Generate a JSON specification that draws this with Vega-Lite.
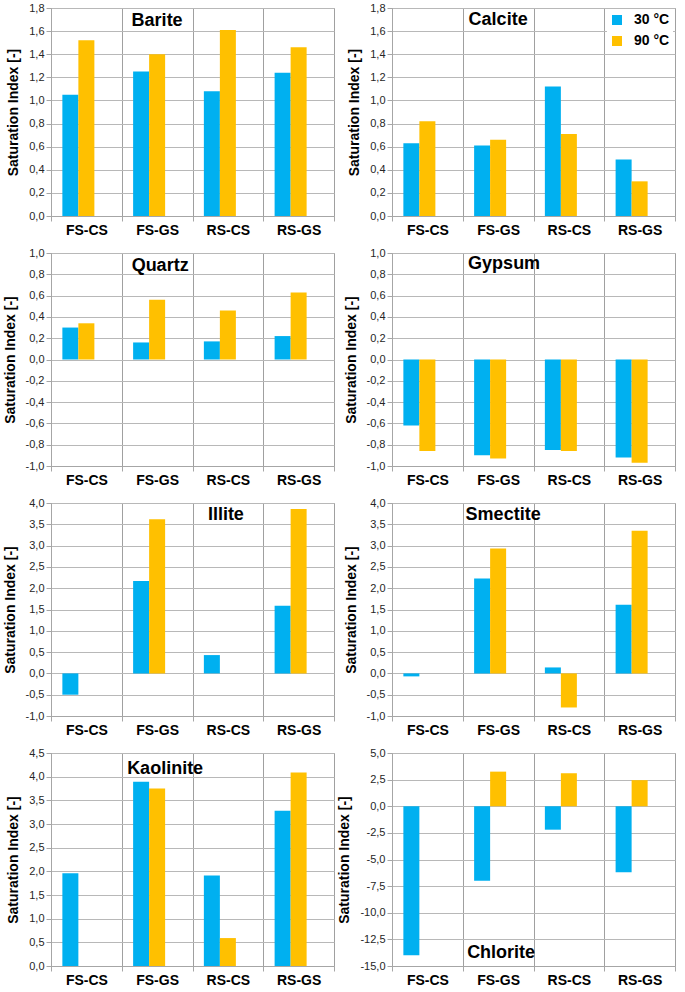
{
  "$schema": "https://vega.github.io/schema/vega-lite/v6.json",
  "padding": {"left": 2, "top": 1, "right": 0, "bottom": 0},
  "background": "white",
  "data": {"values": [
    {"mineral": "Barite", "site": "FS-CS", "temp": "30 °C", "si": 1.05},
    {"mineral": "Barite", "site": "FS-CS", "temp": "90 °C", "si": 1.52},
    {"mineral": "Barite", "site": "FS-GS", "temp": "30 °C", "si": 1.25},
    {"mineral": "Barite", "site": "FS-GS", "temp": "90 °C", "si": 1.40},
    {"mineral": "Barite", "site": "RS-CS", "temp": "30 °C", "si": 1.08},
    {"mineral": "Barite", "site": "RS-CS", "temp": "90 °C", "si": 1.61},
    {"mineral": "Barite", "site": "RS-GS", "temp": "30 °C", "si": 1.24},
    {"mineral": "Barite", "site": "RS-GS", "temp": "90 °C", "si": 1.46},
    {"mineral": "Calcite", "site": "FS-CS", "temp": "30 °C", "si": 0.63},
    {"mineral": "Calcite", "site": "FS-CS", "temp": "90 °C", "si": 0.82},
    {"mineral": "Calcite", "site": "FS-GS", "temp": "30 °C", "si": 0.61},
    {"mineral": "Calcite", "site": "FS-GS", "temp": "90 °C", "si": 0.66},
    {"mineral": "Calcite", "site": "RS-CS", "temp": "30 °C", "si": 1.12},
    {"mineral": "Calcite", "site": "RS-CS", "temp": "90 °C", "si": 0.71},
    {"mineral": "Calcite", "site": "RS-GS", "temp": "30 °C", "si": 0.49},
    {"mineral": "Calcite", "site": "RS-GS", "temp": "90 °C", "si": 0.30},
    {"mineral": "Quartz", "site": "FS-CS", "temp": "30 °C", "si": 0.30},
    {"mineral": "Quartz", "site": "FS-CS", "temp": "90 °C", "si": 0.34},
    {"mineral": "Quartz", "site": "FS-GS", "temp": "30 °C", "si": 0.16},
    {"mineral": "Quartz", "site": "FS-GS", "temp": "90 °C", "si": 0.56},
    {"mineral": "Quartz", "site": "RS-CS", "temp": "30 °C", "si": 0.17},
    {"mineral": "Quartz", "site": "RS-CS", "temp": "90 °C", "si": 0.46},
    {"mineral": "Quartz", "site": "RS-GS", "temp": "30 °C", "si": 0.22},
    {"mineral": "Quartz", "site": "RS-GS", "temp": "90 °C", "si": 0.63},
    {"mineral": "Gypsum", "site": "FS-CS", "temp": "30 °C", "si": -0.62},
    {"mineral": "Gypsum", "site": "FS-CS", "temp": "90 °C", "si": -0.86},
    {"mineral": "Gypsum", "site": "FS-GS", "temp": "30 °C", "si": -0.90},
    {"mineral": "Gypsum", "site": "FS-GS", "temp": "90 °C", "si": -0.93},
    {"mineral": "Gypsum", "site": "RS-CS", "temp": "30 °C", "si": -0.85},
    {"mineral": "Gypsum", "site": "RS-CS", "temp": "90 °C", "si": -0.86},
    {"mineral": "Gypsum", "site": "RS-GS", "temp": "30 °C", "si": -0.92},
    {"mineral": "Gypsum", "site": "RS-GS", "temp": "90 °C", "si": -0.97},
    {"mineral": "Illite", "site": "FS-CS", "temp": "30 °C", "si": -0.50},
    {"mineral": "Illite", "site": "FS-GS", "temp": "30 °C", "si": 2.17},
    {"mineral": "Illite", "site": "FS-GS", "temp": "90 °C", "si": 3.62},
    {"mineral": "Illite", "site": "RS-CS", "temp": "30 °C", "si": 0.43},
    {"mineral": "Illite", "site": "RS-GS", "temp": "30 °C", "si": 1.59},
    {"mineral": "Illite", "site": "RS-GS", "temp": "90 °C", "si": 3.86},
    {"mineral": "Smectite", "site": "FS-CS", "temp": "30 °C", "si": -0.07},
    {"mineral": "Smectite", "site": "FS-GS", "temp": "30 °C", "si": 2.23},
    {"mineral": "Smectite", "site": "FS-GS", "temp": "90 °C", "si": 2.93},
    {"mineral": "Smectite", "site": "RS-CS", "temp": "30 °C", "si": 0.14},
    {"mineral": "Smectite", "site": "RS-CS", "temp": "90 °C", "si": -0.80},
    {"mineral": "Smectite", "site": "RS-GS", "temp": "30 °C", "si": 1.61},
    {"mineral": "Smectite", "site": "RS-GS", "temp": "90 °C", "si": 3.35},
    {"mineral": "Kaolinite", "site": "FS-CS", "temp": "30 °C", "si": 1.96},
    {"mineral": "Kaolinite", "site": "FS-GS", "temp": "30 °C", "si": 3.89},
    {"mineral": "Kaolinite", "site": "FS-GS", "temp": "90 °C", "si": 3.75},
    {"mineral": "Kaolinite", "site": "RS-CS", "temp": "30 °C", "si": 1.91},
    {"mineral": "Kaolinite", "site": "RS-CS", "temp": "90 °C", "si": 0.59},
    {"mineral": "Kaolinite", "site": "RS-GS", "temp": "30 °C", "si": 3.28},
    {"mineral": "Kaolinite", "site": "RS-GS", "temp": "90 °C", "si": 4.09},
    {"mineral": "Chlorite", "site": "FS-CS", "temp": "30 °C", "si": -14.0},
    {"mineral": "Chlorite", "site": "FS-GS", "temp": "30 °C", "si": -7.0},
    {"mineral": "Chlorite", "site": "FS-GS", "temp": "90 °C", "si": 3.25},
    {"mineral": "Chlorite", "site": "RS-CS", "temp": "30 °C", "si": -2.2},
    {"mineral": "Chlorite", "site": "RS-CS", "temp": "90 °C", "si": 3.1},
    {"mineral": "Chlorite", "site": "RS-GS", "temp": "30 °C", "si": -6.2},
    {"mineral": "Chlorite", "site": "RS-GS", "temp": "90 °C", "si": 2.45}
  ]},
  "columns": 2,
  "spacing": {"row": 8, "column": 2},
  "resolve": {"scale": {"color": "independent", "x": "independent", "y": "independent", "xOffset": "independent"}, "legend": {"color": "independent"}},
  "concat": [
    {
      "width": 283, "height": 208,
      "layer": [
        {"transform": [{"filter": "datum.mineral === 'Barite'"}], "mark": "bar",
         "encoding": {
           "x": {"field": "site", "type": "nominal", "title": null, "scale": {"domain": ["FS-CS", "FS-GS", "RS-CS", "RS-GS"], "paddingInner": 0, "paddingOuter": 0}, "axis": {"grid": true, "tickBand": "extent"}},
           "xOffset": {"field": "temp", "type": "nominal", "scale": {"domain": ["30 °C", "90 °C", "_"], "paddingInner": 0, "paddingOuter": 0.71}},
           "y": {"field": "si", "type": "quantitative", "title": "Saturation Index  [-]", "scale": {"domain": [0, 1.8], "nice": false, "zero": false}, "axis": {"values": [0, 0.2, 0.4, 0.6, 0.8, 1.0, 1.2, 1.4, 1.6, 1.8], "tickCount": 30, "format": ".1f"}},
           "color": {"field": "temp", "type": "nominal", "scale": {"domain": ["30 °C", "90 °C"], "range": ["#00B0F0", "#FFC000"]}, "legend": null}
         }},
        {"data": {"values": [{}]}, "mark": {"type": "text", "fontSize": 18, "fontWeight": "bold", "color": "#000"},
         "encoding": {"x": {"datum": "FS-GS"}, "y": {"datum": 1.69}, "text": {"value": "Barite"}}}
      ]
    },
    {
      "width": 283, "height": 208,
      "layer": [
        {"transform": [{"filter": "datum.mineral === 'Calcite'"}], "mark": "bar",
         "encoding": {
           "x": {"field": "site", "type": "nominal", "title": null, "scale": {"domain": ["FS-CS", "FS-GS", "RS-CS", "RS-GS"], "paddingInner": 0, "paddingOuter": 0}, "axis": {"grid": true, "tickBand": "extent"}},
           "xOffset": {"field": "temp", "type": "nominal", "scale": {"domain": ["30 °C", "90 °C", "_"], "paddingInner": 0, "paddingOuter": 0.71}},
           "y": {"field": "si", "type": "quantitative", "title": "Saturation Index  [-]", "scale": {"domain": [0, 1.8], "nice": false, "zero": false}, "axis": {"values": [0, 0.2, 0.4, 0.6, 0.8, 1.0, 1.2, 1.4, 1.6, 1.8], "tickCount": 30, "format": ".1f"}},
           "color": {"field": "temp", "type": "nominal", "scale": {"domain": ["30 °C", "90 °C"], "range": ["#00B0F0", "#FFC000"]},
             "legend": {"orient": "top-right", "title": null, "symbolType": "square", "symbolSize": 100, "symbolStrokeWidth": 0, "labelFontSize": 14, "labelFontWeight": "bold", "labelColor": "#000", "labelOffset": 10, "rowPadding": 7, "fillColor": "white", "padding": 3, "offset": 2}}
         }},
        {"data": {"values": [{}]}, "mark": {"type": "text", "fontSize": 18, "fontWeight": "bold", "color": "#000"},
         "encoding": {"x": {"datum": "FS-GS"}, "y": {"datum": 1.70}, "text": {"value": "Calcite"}}}
      ]
    },
    {
      "width": 283, "height": 213,
      "layer": [
        {"transform": [{"filter": "datum.mineral === 'Quartz'"}], "mark": "bar",
         "encoding": {
           "x": {"field": "site", "type": "nominal", "title": null, "scale": {"domain": ["FS-CS", "FS-GS", "RS-CS", "RS-GS"], "paddingInner": 0, "paddingOuter": 0}, "axis": {"grid": true, "tickBand": "extent"}},
           "xOffset": {"field": "temp", "type": "nominal", "scale": {"domain": ["30 °C", "90 °C", "_"], "paddingInner": 0, "paddingOuter": 0.71}},
           "y": {"field": "si", "type": "quantitative", "title": "Saturation Index  [-]", "scale": {"domain": [-1, 1], "nice": false, "zero": false}, "axis": {"values": [-1.0, -0.8, -0.6, -0.4, -0.2, 0, 0.2, 0.4, 0.6, 0.8, 1.0], "tickCount": 30, "format": ".1f"}},
           "color": {"field": "temp", "type": "nominal", "scale": {"domain": ["30 °C", "90 °C"], "range": ["#00B0F0", "#FFC000"]}, "legend": null}
         }},
        {"data": {"values": [{}]}, "mark": {"type": "text", "fontSize": 18, "fontWeight": "bold", "color": "#000", "dx": 3},
         "encoding": {"x": {"datum": "FS-GS"}, "y": {"datum": 0.88}, "text": {"value": "Quartz"}}}
      ]
    },
    {
      "width": 283, "height": 213,
      "layer": [
        {"transform": [{"filter": "datum.mineral === 'Gypsum'"}], "mark": "bar",
         "encoding": {
           "x": {"field": "site", "type": "nominal", "title": null, "scale": {"domain": ["FS-CS", "FS-GS", "RS-CS", "RS-GS"], "paddingInner": 0, "paddingOuter": 0}, "axis": {"grid": true, "tickBand": "extent"}},
           "xOffset": {"field": "temp", "type": "nominal", "scale": {"domain": ["30 °C", "90 °C", "_"], "paddingInner": 0, "paddingOuter": 0.71}},
           "y": {"field": "si", "type": "quantitative", "title": "Saturation Index  [-]", "scale": {"domain": [-1, 1], "nice": false, "zero": false}, "axis": {"values": [-1.0, -0.8, -0.6, -0.4, -0.2, 0, 0.2, 0.4, 0.6, 0.8, 1.0], "tickCount": 30, "format": ".1f"}},
           "color": {"field": "temp", "type": "nominal", "scale": {"domain": ["30 °C", "90 °C"], "range": ["#00B0F0", "#FFC000"]}, "legend": null}
         }},
        {"data": {"values": [{}]}, "mark": {"type": "text", "fontSize": 18, "fontWeight": "bold", "color": "#000", "dx": 6},
         "encoding": {"x": {"datum": "FS-GS"}, "y": {"datum": 0.90}, "text": {"value": "Gypsum"}}}
      ]
    },
    {
      "width": 283, "height": 213,
      "layer": [
        {"transform": [{"filter": "datum.mineral === 'Illite'"}], "mark": "bar",
         "encoding": {
           "x": {"field": "site", "type": "nominal", "title": null, "scale": {"domain": ["FS-CS", "FS-GS", "RS-CS", "RS-GS"], "paddingInner": 0, "paddingOuter": 0}, "axis": {"grid": true, "tickBand": "extent"}},
           "xOffset": {"field": "temp", "type": "nominal", "scale": {"domain": ["30 °C", "90 °C", "_"], "paddingInner": 0, "paddingOuter": 0.71}},
           "y": {"field": "si", "type": "quantitative", "title": "Saturation Index  [-]", "scale": {"domain": [-1, 4], "nice": false, "zero": false}, "axis": {"values": [-1.0, -0.5, 0, 0.5, 1.0, 1.5, 2.0, 2.5, 3.0, 3.5, 4.0], "tickCount": 30, "format": ".1f"}},
           "color": {"field": "temp", "type": "nominal", "scale": {"domain": ["30 °C", "90 °C"], "range": ["#00B0F0", "#FFC000"]}, "legend": null}
         }},
        {"data": {"values": [{}]}, "mark": {"type": "text", "fontSize": 18, "fontWeight": "bold", "color": "#000", "dx": -2},
         "encoding": {"x": {"datum": "RS-CS"}, "y": {"datum": 3.71}, "text": {"value": "Illite"}}}
      ]
    },
    {
      "width": 283, "height": 213,
      "layer": [
        {"transform": [{"filter": "datum.mineral === 'Smectite'"}], "mark": "bar",
         "encoding": {
           "x": {"field": "site", "type": "nominal", "title": null, "scale": {"domain": ["FS-CS", "FS-GS", "RS-CS", "RS-GS"], "paddingInner": 0, "paddingOuter": 0}, "axis": {"grid": true, "tickBand": "extent"}},
           "xOffset": {"field": "temp", "type": "nominal", "scale": {"domain": ["30 °C", "90 °C", "_"], "paddingInner": 0, "paddingOuter": 0.71}},
           "y": {"field": "si", "type": "quantitative", "title": "Saturation Index  [-]", "scale": {"domain": [-1, 4], "nice": false, "zero": false}, "axis": {"values": [-1.0, -0.5, 0, 0.5, 1.0, 1.5, 2.0, 2.5, 3.0, 3.5, 4.0], "tickCount": 30, "format": ".1f"}},
           "color": {"field": "temp", "type": "nominal", "scale": {"domain": ["30 °C", "90 °C"], "range": ["#00B0F0", "#FFC000"]}, "legend": null}
         }},
        {"data": {"values": [{}]}, "mark": {"type": "text", "fontSize": 18, "fontWeight": "bold", "color": "#000", "dx": 5},
         "encoding": {"x": {"datum": "FS-GS"}, "y": {"datum": 3.71}, "text": {"value": "Smectite"}}}
      ]
    },
    {
      "width": 283, "height": 213,
      "layer": [
        {"transform": [{"filter": "datum.mineral === 'Kaolinite'"}], "mark": "bar",
         "encoding": {
           "x": {"field": "site", "type": "nominal", "title": null, "scale": {"domain": ["FS-CS", "FS-GS", "RS-CS", "RS-GS"], "paddingInner": 0, "paddingOuter": 0}, "axis": {"grid": true, "tickBand": "extent"}},
           "xOffset": {"field": "temp", "type": "nominal", "scale": {"domain": ["30 °C", "90 °C", "_"], "paddingInner": 0, "paddingOuter": 0.71}},
           "y": {"field": "si", "type": "quantitative", "title": "Saturation Index  [-]", "scale": {"domain": [0, 4.5], "nice": false, "zero": false}, "axis": {"values": [0, 0.5, 1.0, 1.5, 2.0, 2.5, 3.0, 3.5, 4.0, 4.5], "tickCount": 30, "format": ".1f"}},
           "color": {"field": "temp", "type": "nominal", "scale": {"domain": ["30 °C", "90 °C"], "range": ["#00B0F0", "#FFC000"]}, "legend": null}
         }},
        {"data": {"values": [{}]}, "mark": {"type": "text", "fontSize": 18, "fontWeight": "bold", "color": "#000", "dx": 8},
         "encoding": {"x": {"datum": "FS-GS"}, "y": {"datum": 4.17}, "text": {"value": "Kaolinite"}}}
      ]
    },
    {
      "width": 283, "height": 213,
      "layer": [
        {"transform": [{"filter": "datum.mineral === 'Chlorite'"}], "mark": "bar",
         "encoding": {
           "x": {"field": "site", "type": "nominal", "title": null, "scale": {"domain": ["FS-CS", "FS-GS", "RS-CS", "RS-GS"], "paddingInner": 0, "paddingOuter": 0}, "axis": {"grid": true, "tickBand": "extent"}},
           "xOffset": {"field": "temp", "type": "nominal", "scale": {"domain": ["30 °C", "90 °C", "_"], "paddingInner": 0, "paddingOuter": 0.71}},
           "y": {"field": "si", "type": "quantitative", "title": "Saturation Index  [-]", "scale": {"domain": [-15, 5], "nice": false, "zero": false}, "axis": {"values": [-15, -12.5, -10, -7.5, -5, -2.5, 0, 2.5, 5], "tickCount": 30, "format": ".1f"}},
           "color": {"field": "temp", "type": "nominal", "scale": {"domain": ["30 °C", "90 °C"], "range": ["#00B0F0", "#FFC000"]}, "legend": null}
         }},
        {"data": {"values": [{}]}, "mark": {"type": "text", "fontSize": 18, "fontWeight": "bold", "color": "#000", "dx": 3},
         "encoding": {"x": {"datum": "FS-GS"}, "y": {"datum": -13.8}, "text": {"value": "Chlorite"}}}
      ]
    }
  ],
  "config": {
    "font": "Liberation Sans",
    "view": {"stroke": "#a6a6a6", "strokeWidth": 1},
    "locale": {"number": {"decimal": ",", "thousands": ".", "grouping": [3], "currency": ["", " €"], "minus": "-"}},
    "axis": {"domainColor": "#a6a6a6", "tickColor": "#a6a6a6", "gridColor": "#b8b8b8", "gridOpacity": 1},
    "axisX": {"labelFontSize": 14, "labelFontWeight": "bold", "labelColor": "#000", "tickSize": 5, "labelPadding": 2, "labelAngle": 0, "gridColor": "#a0a0a0"},
    "axisY": {"labelFontSize": 11, "labelColor": "#262626", "tickSize": 5, "labelPadding": 2, "labelOverlap": false, "titleFontSize": 14, "titleFontWeight": "bold", "titleColor": "#000", "titlePadding": 8}
  }
}
